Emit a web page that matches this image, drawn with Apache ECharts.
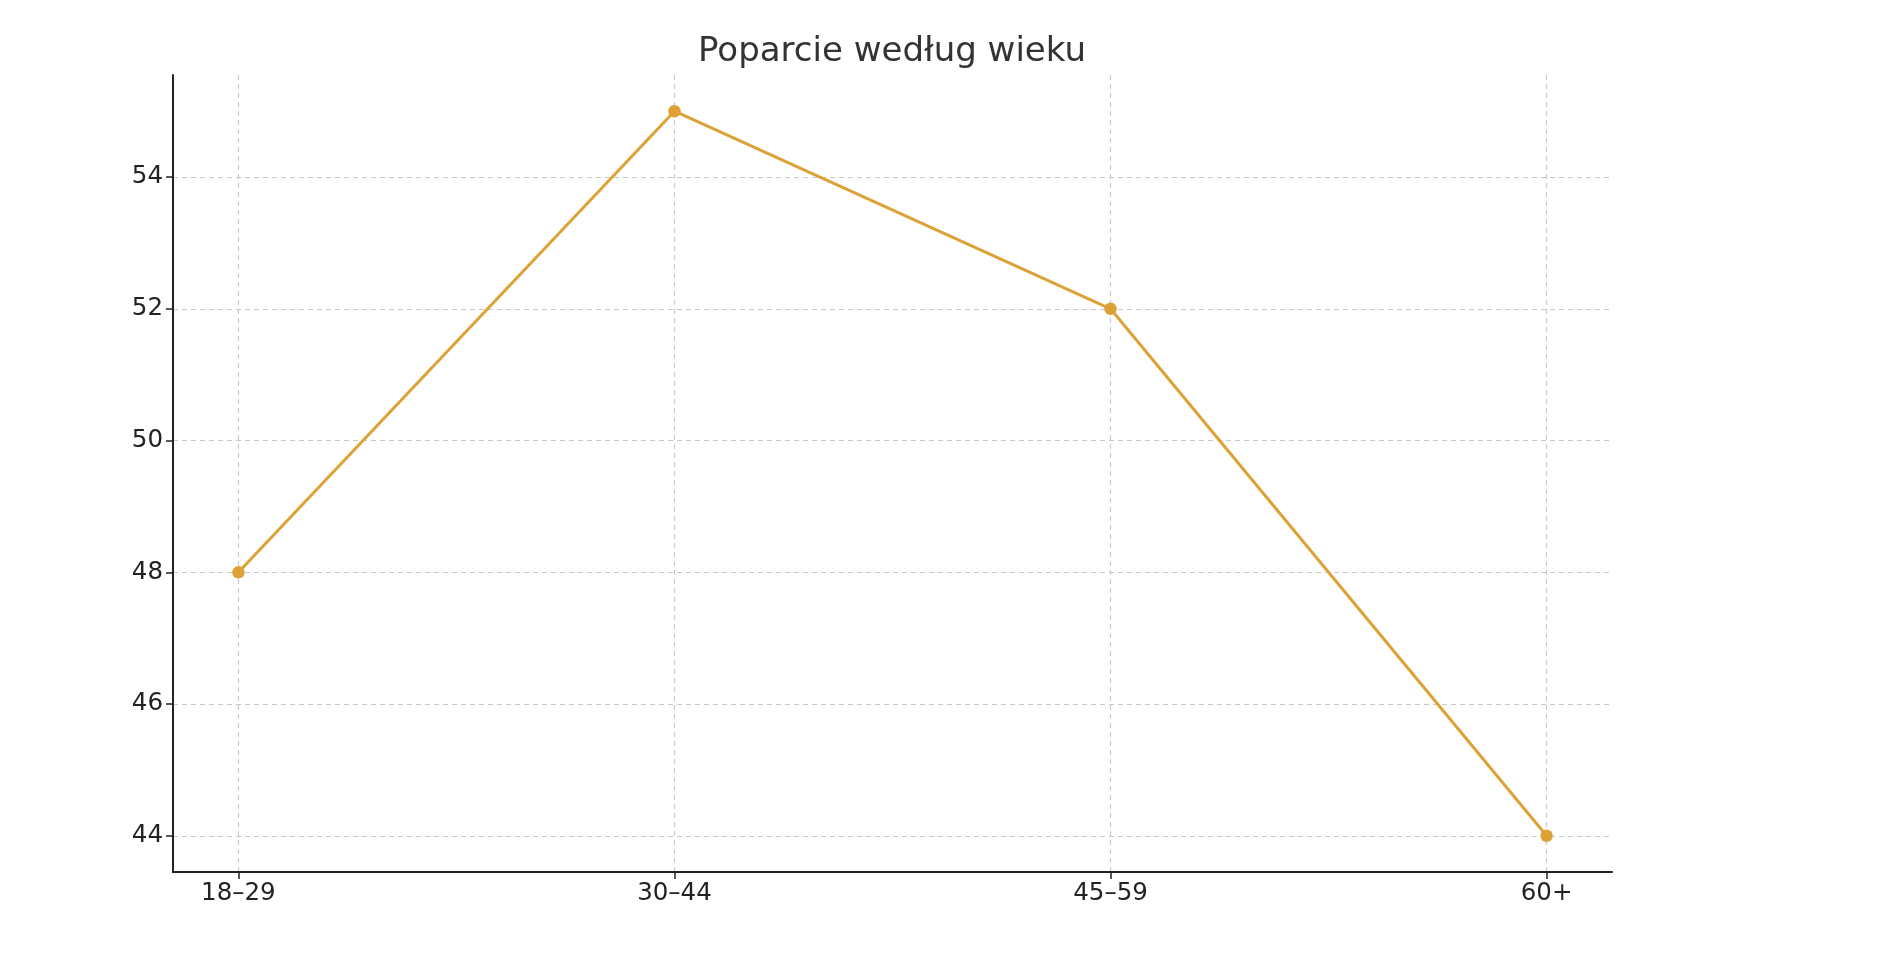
<!DOCTYPE html>
<html>
<head>
<meta charset="utf-8">
<title>Poparcie według wieku</title>
<script src="https://cdn.jsdelivr.net/npm/echarts@6/dist/echarts.min.js"></script>
<style>
  html, body { margin: 0; padding: 0; background: #fff; }
  #chart { width: 1900px; height: 954px; }
</style>
</head>
<body>
<div id="chart"></div>
<script>
// dane
var ageGroups = ['18–29', '30–44', '45–59', '60+']
var support = [48, 55, 52, 44]
var yTicks = [44, 46, 48, 50, 52, 54]

var myChart = echarts.init(document.getElementById('chart'))

var points = support.map(function(v, i) {
  return [i, v]
})
var xTicks = ageGroups.map(function(item, i) {
  return i
})

var font = 'DejaVu Sans'

var option = {
  backgroundColor: '#fff',
  animation: false,
  title: {
    text: 'Poparcie według wieku',
    left: 887,
    textAlign: 'center',
    top: 30,
    textStyle: {
      fontFamily: font,
      fontSize: 34,
      fontWeight: 'normal',
      color: '#333'
    }
  },
  grid: {
    left: 173,
    right: 288,
    top: 75,
    bottom: 82,
    containLabel: false
  },
  xAxis: {
    type: 'value',
    min: -0.15,
    max: 3.15,
    axisLine: { show: true, onZero: false, lineStyle: { color: '#222', width: 2 } },
    axisTick: {
      show: true,
      length: 7,
      customValues: xTicks,
      lineStyle: { color: '#222', width: 1.5 }
    },
    axisLabel: {
      customValues: xTicks,
      margin: 9,
      fontFamily: font,
      fontSize: 24.5,
      color: '#222',
      formatter: function(v) {
        return ageGroups[Math.round(v)]
      }
    },
    splitLine: {
      show: true,
      lineStyle: { color: '#c8c8c8', width: 1.2, type: [5, 4] }
    }
  },
  yAxis: {
    type: 'value',
    min: 43.45,
    max: 55.55,
    axisLine: { show: true, onZero: false, lineStyle: { color: '#222', width: 2 } },
    axisTick: {
      show: true,
      length: 7,
      customValues: yTicks,
      lineStyle: { color: '#222', width: 1.5 }
    },
    axisLabel: {
      customValues: yTicks,
      margin: 10,
      fontFamily: font,
      fontSize: 24.5,
      color: '#222'
    },
    splitLine: {
      show: true,
      lineStyle: { color: '#c8c8c8', width: 1.2, type: [5, 4] }
    }
  },
  series: [
    {
      name: 'Poparcie',
      type: 'line',
      data: points,
      symbol: 'circle',
      symbolSize: 12.5,
      showSymbol: true,
      itemStyle: { color: '#DCA236' },
      lineStyle: { color: '#DCA236', width: 3 }
    }
  ]
}

myChart.setOption(option, true)
window.onresize = function() {
  myChart.resize()
}
</script>
</body>
</html>
